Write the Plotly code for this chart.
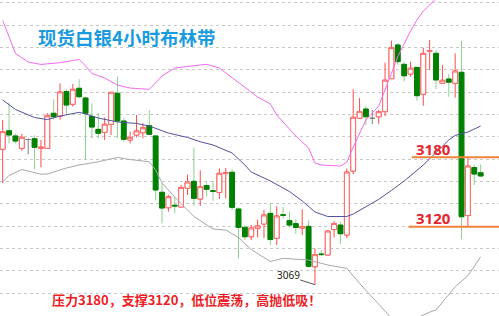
import plotly.graph_objects as go

# ---------------- data ----------------
opens = [3187.0, 3203.0, 3198.5, 3187.8, 3195.4, 3196.1, 3187.8, 3187.8, 3218.1, 3215.7,
         3236.9, 3225.9, 3239.7, 3231.3, 3215.3, 3204.2, 3201.7, 3208.6, 3235.4, 3211.4,
         3195.0, 3199.3, 3201.3, 3207.4, 3198.5, 3149.8, 3136.5, 3138.6, 3137.1, 3153.3,
         3159.3, 3144.0, 3155.7, 3151.1, 3149.6, 3166.2, 3167.1, 3135.4, 3119.5, 3111.4,
         3118.7, 3122.4, 3131.6, 3110.0, 3130.4, 3125.3, 3122.7, 3118.9, 3120.4, 3085.5,
         3096.5, 3095.6, 3117.6, 3121.5, 3112.9, 3168.2, 3213.8, 3221.8, 3213.8, 3215.1,
         3219.5, 3248.0, 3277.1, 3260.4, 3252.0, 3257.8, 3234.5, 3271.7, 3269.9, 3244.0,
         3247.7, 3244.0, 3253.5, 3129.7, 3171.2, 3166.7]
closes = [3202.2, 3199.3, 3194.1, 3197.3, 3195.4, 3188.7, 3188.7, 3216.0, 3215.1, 3236.5,
          3225.2, 3238.8, 3232.4, 3218.1, 3206.2, 3200.8, 3208.6, 3236.2, 3211.4, 3195.6,
          3197.3, 3202.8, 3205.6, 3199.9, 3151.8, 3136.2, 3146.0, 3138.0, 3154.0, 3158.7,
          3144.6, 3154.6, 3152.4, 3150.7, 3166.2, 3166.7, 3136.8, 3119.5, 3111.4, 3118.9,
          3120.7, 3130.2, 3109.0, 3129.3, 3129.9, 3121.5, 3119.4, 3120.1, 3085.8, 3095.9,
          3096.0, 3116.3, 3122.8, 3114.0, 3167.3, 3214.6, 3219.5, 3215.1, 3213.8, 3219.5,
          3246.7, 3274.9, 3262.7, 3250.5, 3257.0, 3233.3, 3269.9, 3272.2, 3246.9, 3246.6,
          3245.0, 3254.6, 3128.7, 3172.5, 3165.6, 3163.9]
highs = [3212.3, 3227.2, 3200.2, 3200.2, 3196.3, 3199.1, 3195.0, 3218.3, 3230.2, 3244.0,
         3238.8, 3243.4, 3247.5, 3232.4, 3226.5, 3218.3, 3214.6, 3236.2, 3249.7, 3213.8,
         3202.2, 3216.6, 3209.4, 3220.9, 3198.5, 3157.6, 3147.5, 3145.7, 3156.1, 3165.2,
         3188.5, 3168.8, 3158.3, 3159.6, 3170.5, 3170.8, 3169.7, 3136.7, 3121.5, 3121.5,
         3126.1, 3134.5, 3140.5, 3137.7, 3137.3, 3133.0, 3126.7, 3135.1, 3125.6, 3101.2,
         3099.9, 3117.2, 3125.0, 3124.4, 3170.4, 3238.8, 3231.3, 3224.4, 3220.9, 3220.9,
         3261.8, 3280.8, 3278.6, 3262.7, 3262.7, 3257.8, 3274.8, 3281.4, 3272.8, 3259.8,
         3252.0, 3269.9, 3280.8, 3179.4, 3173.6, 3173.8]
lows = [3157.8, 3192.1, 3192.1, 3185.7, 3182.6, 3169.7, 3171.4, 3187.8, 3212.9, 3212.5,
        3216.6, 3223.8, 3231.0, 3177.7, 3196.5, 3196.5, 3195.0, 3199.3, 3196.5, 3193.5,
        3192.1, 3197.3, 3196.5, 3199.3, 3142.7, 3123.0, 3133.0, 3131.6, 3137.1, 3147.5,
        3138.0, 3138.0, 3146.3, 3142.5, 3144.0, 3144.6, 3134.5, 3092.7, 3108.6, 3108.6,
        3110.7, 3110.3, 3104.2, 3104.2, 3127.3, 3119.5, 3113.8, 3112.9, 3085.2, 3070.0,
        3094.7, 3095.6, 3110.9, 3105.1, 3110.3, 3165.6, 3213.8, 3208.0, 3208.8, 3208.8,
        3215.7, 3248.0, 3259.8, 3245.7, 3249.7, 3229.0, 3224.6, 3255.5, 3239.1, 3244.0,
        3232.4, 3231.6, 3109.2, 3120.1, 3156.1, 3163.3]

upper_idx = [0, 2, 4, 6, 9, 12, 13, 14, 16, 18, 20, 23, 25, 27, 30, 32, 34, 36, 38, 40,
             42, 43, 46, 48, 49, 50, 53, 54, 55, 57, 59, 60, 61, 62, 64, 65, 66, 67, 68, 70, 75]
upper_val = [3298.3, 3269.8, 3262.4, 3260.3, 3261.8, 3264.6, 3259.0, 3252.5, 3248.6, 3242.5,
             3239.9, 3238.8, 3250.3, 3257.2, 3259.2, 3260.4, 3257.2, 3248.6, 3240.8, 3232.2,
             3226.1, 3216.6, 3198.5, 3188.1, 3175.1, 3173.4, 3172.5, 3176.0, 3188.9, 3212.3,
             3224.4, 3237.8, 3252.6, 3267.1, 3289.2, 3298.7, 3306.5, 3311.7, 3317.7, 3335.0, 3360.0]

mid_idx = [0, 2, 5, 7, 9, 12, 13, 15, 18, 21, 23, 26, 29, 31, 33, 36, 38, 39, 42, 45,
           47, 49, 51, 54, 55, 57, 59, 61, 63, 66, 68, 70, 71, 73, 75]
mid_val = [3229.6, 3221.4, 3214.4, 3212.7, 3215.7, 3218.9, 3217.5, 3214.0, 3210.6, 3209.3,
           3207.1, 3201.0, 3197.2, 3193.5, 3190.7, 3183.8, 3173.4, 3167.3, 3159.6, 3150.5,
           3142.3, 3132.8, 3128.9, 3128.9, 3131.0, 3137.1, 3143.7, 3151.4, 3159.6, 3173.4,
           3184.6, 3195.0, 3198.9, 3201.9, 3207.1]

lower_idx = [0, 1, 3, 6, 7, 10, 12, 14, 15, 18, 20, 23, 24, 25, 27, 30, 33, 35, 37, 39,
             42, 44, 46, 48, 51, 54, 56, 58, 60, 61, 65, 67, 68, 71, 73, 75]
lower_val = [3158.7, 3164.3, 3169.5, 3165.4, 3165.6, 3170.8, 3173.4, 3175.1, 3176.2, 3179.9,
             3178.1, 3176.2, 3169.1, 3157.8, 3145.7, 3128.9, 3118.1, 3117.2, 3110.7, 3100.4,
             3090.0, 3092.7, 3092.1, 3091.3, 3087.0, 3084.1, 3071.1, 3059.3, 3047.2, 3041.2,
             3041.2, 3046.3, 3048.1, 3068.2, 3077.7, 3094.1]

resistance = 3180
support = 3120
low_label = "3069"
low_bar = 49

title_text = "现货白银4小时布林带"
note_text = "压力3180，支撑3120，低位震荡，高抛低吸！"

# ---------------- figure ----------------
n = len(opens)
idx = list(range(n))
normal = [i for i in idx if opens[i] != closes[i]]
doji = [i for i in idx if opens[i] == closes[i]]

BULL_BODY = "#ff6b6b"
BULL_WICK = "#ff4a4a"
BEAR_BODY = "#008000"
BEAR_WICK = "#8fcf8f"

fig = go.Figure()

# wicks
fig.add_trace(go.Candlestick(
    x=normal, open=[opens[i] for i in normal], close=[closes[i] for i in normal],
    high=[highs[i] for i in normal], low=[lows[i] for i in normal],
    increasing=dict(line=dict(color=BULL_WICK, width=1), fillcolor=BULL_WICK),
    decreasing=dict(line=dict(color=BEAR_WICK, width=1), fillcolor=BEAR_WICK),
    whiskerwidth=0, hoverinfo="skip", showlegend=False))
# bodies
fig.add_trace(go.Candlestick(
    x=normal, open=[opens[i] for i in normal], close=[closes[i] for i in normal],
    high=[max(opens[i], closes[i]) for i in normal], low=[min(opens[i], closes[i]) for i in normal],
    increasing=dict(line=dict(color=BULL_BODY, width=1), fillcolor="#ffffff"),
    decreasing=dict(line=dict(color=BEAR_BODY, width=1), fillcolor=BEAR_BODY),
    whiskerwidth=0, hoverinfo="skip", showlegend=False))
# doji
fig.add_trace(go.Candlestick(
    x=doji, open=[opens[i] for i in doji], close=[closes[i] for i in doji],
    high=[highs[i] for i in doji], low=[lows[i] for i in doji],
    increasing=dict(line=dict(color="#808080", width=1), fillcolor="#808080"),
    decreasing=dict(line=dict(color="#808080", width=1), fillcolor="#808080"),
    whiskerwidth=0, hoverinfo="skip", showlegend=False))

# Bollinger bands
fig.add_trace(go.Scatter(x=upper_idx, y=upper_val, mode="lines",
                         line=dict(color="#f36af3", width=1), hoverinfo="skip", showlegend=False))
fig.add_trace(go.Scatter(x=mid_idx, y=mid_val, mode="lines",
                         line=dict(color="#55509e", width=1), hoverinfo="skip", showlegend=False))
fig.add_trace(go.Scatter(x=lower_idx, y=lower_val, mode="lines",
                         line=dict(color="#a8a8a8", width=1), hoverinfo="skip", showlegend=False))

# support / resistance lines
fig.add_shape(type="line", x0=64.2, x1=78.5, y0=resistance, y1=resistance,
              line=dict(color="#f0833a", width=2))
fig.add_shape(type="line", x0=63.7, x1=78.5, y0=support, y1=support,
              line=dict(color="#f0833a", width=2))
# pointer to the low
fig.add_shape(type="line", x0=46.7, x1=low_bar, y0=3074.0, y1=lows[low_bar],
              line=dict(color="#555555", width=1))

fig.add_annotation(x=67.6, y=resistance, yshift=8, text="<b>%d</b>" % resistance,
                   xanchor="center", yanchor="middle",
                   showarrow=False, font=dict(family="Noto Sans, DejaVu Sans", size=15, color="#e8232a"))
fig.add_annotation(x=67.6, y=support, yshift=9, text="<b>%d</b>" % support,
                   xanchor="center", yanchor="middle",
                   showarrow=False, font=dict(family="Noto Sans, DejaVu Sans", size=15, color="#e8232a"))
fig.add_annotation(x=44.9, y=3078.3, text=low_label, showarrow=False,
                   xanchor="center", yanchor="middle",
                   font=dict(family="Noto Sans, DejaVu Sans", size=10, color="#222222"))

fig.add_annotation(xref="paper", yref="paper", x=126.5 / 499, y=1 - 36.7 / 316,
                   xanchor="center", yanchor="middle",
                   text="<b>%s</b>" % title_text, showarrow=False,
                   font=dict(family="Noto Sans CJK SC", size=18.5, color="#1a9be0"))
fig.add_annotation(xref="paper", yref="paper", x=186.3 / 499, y=1 - 299.3 / 316,
                   xanchor="center", yanchor="middle",
                   text="<b>%s</b>" % note_text, showarrow=False,
                   font=dict(family="Noto Sans CJK SC", size=13, color="#ee1c25"))

fig.update_layout(
    width=499, height=316, margin=dict(l=0, r=0, t=0, b=0),
    paper_bgcolor="white", plot_bgcolor="white",
    boxgap=0.25, boxgroupgap=0,
    xaxis=dict(range=[-0.424, 77.88], visible=False, showgrid=False, zeroline=False,
               rangeslider=dict(visible=False)),
    yaxis=dict(range=[3042.9, 3316.0], showticklabels=False, zeroline=False,
               showgrid=True, gridcolor="#c8c8c8", gridwidth=1, griddash="dot",
               tick0=3313.67, dtick=19.317, ticks=""),
    showlegend=False,
)

fig.write_html("out.html")
